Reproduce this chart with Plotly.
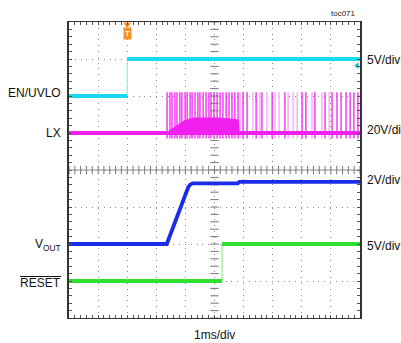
import numpy as np
import plotly.graph_objects as go

# ---------------- data (time in ms, 1 ms/div, trigger at 0 ms) ----------------
t_range = [-2, 8]

# channel scales (V/div) and zero-level positions (divisions from bottom)
en_scale, en_pos = 5, 6
lx_scale, lx_pos = 20, 5
vout_scale, vout_pos = 2, 2
reset_scale, reset_pos = 5, 1

en_t = [-2, 0.0, 0.0, 8]
en_v = [0, 0, 5, 5]

vout_t = [-2, 1.36, 2.10, 2.17, 2.25, 3.80, 3.86, 8]
vout_v = [0, 0, 3.08, 3.22, 3.28, 3.28, 3.36, 3.36]

reset_t = [-2, 3.26, 3.26, 8]
reset_v = [0, 0, 5, 5]

lx_base_t = [-2, 8]
lx_base_v = [0, 0]
lx_env_t = [1.34, 1.60, 1.95, 2.30, 3.00, 3.50, 3.82, 3.86]
lx_env_v = [0, 2.7, 6.5, 8.1, 8.1, 7.6, 7.0, 0]
lx_pulse_strong = [1.37, 1.47, 1.54, 1.64, 1.71, 1.81, 1.88, 1.99, 2.06, 2.16, 2.23,
                   2.33, 2.43, 2.50, 2.61, 2.71, 2.81, 2.88, 2.98, 3.09, 3.19, 3.29,
                   3.40, 3.50, 3.60, 3.70, 3.81, 3.98, 4.12, 4.43, 4.63, 4.98, 5.42,
                   6.01, 6.14, 6.45, 6.80, 7.04, 7.21, 7.35, 7.52, 7.66, 7.79, 7.93]
lx_pulse_faint = [3.88, 4.32, 4.56, 4.80, 5.08, 5.22, 5.53, 5.70, 5.84, 6.35, 6.69,
                  6.94]
lx_high, lx_low = 22, -3

# ---------------- helpers ----------------
def to_div(v, scale, pos):
    return [None if x is None else pos + x / scale for x in v]


def split_steps(t, v):
    """Return horizontal/sloped runs (thick) and vertical edges (thin)."""
    runs, edges = [], []
    cur_x, cur_y = [t[0]], [v[0]]
    for i in range(len(t) - 1):
        if t[i] == t[i + 1]:
            runs.append((cur_x, cur_y))
            edges.append(([t[i], t[i + 1]], [v[i], v[i + 1]]))
            cur_x, cur_y = [t[i + 1]], [v[i + 1]]
        else:
            cur_x.append(t[i + 1])
            cur_y.append(v[i + 1])
    runs.append((cur_x, cur_y))
    return runs, edges


def pulses(times):
    xs, ys = [], []
    for p in times:
        xs += [p, p, None]
        ys += [lx_low, lx_high, None]
    return xs, ys


fig = go.Figure()


def add_channel(t, v, scale, pos, color, edge_color, width):
    runs, edges = split_steps(t, v)
    for ex, ey in edges:
        fig.add_trace(go.Scatter(x=ex, y=to_div(ey, scale, pos), mode="lines",
                                 line=dict(color=edge_color, width=1.2),
                                 hoverinfo="skip", showlegend=False))
    for rx, ry in runs:
        fig.add_trace(go.Scatter(x=rx, y=to_div(ry, scale, pos), mode="lines",
                                 line=dict(color=color, width=width),
                                 hoverinfo="skip", showlegend=False))


CYAN = "#1adbeb"
MAGENTA = "#f020f0"
BLUE = "#1a2ee8"
GREEN = "#30e030"

# center graticule ticks
tick_x = np.round(np.arange(t_range[0], t_range[1] + 0.001, 0.2), 3)
tick_y = np.round(np.arange(0, 8.001, 0.2), 3)
fig.add_trace(go.Scatter(x=tick_x, y=[4] * len(tick_x), mode="markers",
                         marker=dict(symbol="line-ns", size=6,
                                     line=dict(color="#777", width=1)),
                         hoverinfo="skip", showlegend=False))
fig.add_trace(go.Scatter(x=[3] * len(tick_y), y=tick_y, mode="markers",
                         marker=dict(symbol="line-ew", size=6,
                                     line=dict(color="#777", width=1)),
                         hoverinfo="skip", showlegend=False))

# EN/UVLO
add_channel(en_t, en_v, en_scale, en_pos, CYAN, "#8fecf5", 3.8)

# LX
env_x = lx_env_t + lx_env_t[::-1]
env_y = to_div(lx_env_v, lx_scale, lx_pos) + to_div([0] * len(lx_env_t), lx_scale, lx_pos)
fig.add_trace(go.Scatter(x=env_x, y=env_y, mode="lines", fill="toself",
                         fillcolor=MAGENTA, line=dict(color=MAGENTA, width=1),
                         hoverinfo="skip", showlegend=False))
px, py = pulses(lx_pulse_faint)
fig.add_trace(go.Scatter(x=px, y=to_div(py, lx_scale, lx_pos), mode="lines",
                         line=dict(color="#f6a6f6", width=1.3),
                         hoverinfo="skip", showlegend=False))
px, py = pulses(lx_pulse_strong)
fig.add_trace(go.Scatter(x=px, y=to_div(py, lx_scale, lx_pos), mode="lines",
                         line=dict(color=MAGENTA, width=1.3),
                         hoverinfo="skip", showlegend=False))
fig.add_trace(go.Scatter(x=lx_base_t, y=to_div(lx_base_v, lx_scale, lx_pos),
                         mode="lines", line=dict(color=MAGENTA, width=4),
                         hoverinfo="skip", showlegend=False))

# VOUT
add_channel(vout_t, vout_v, vout_scale, vout_pos, BLUE, "#6a7af0", 3.8)
# RESET
add_channel(reset_t, reset_v, reset_scale, reset_pos, GREEN, "#8af08a", 3.8)

# reference-level arrow (EN/UVLO) and trigger marker
fig.add_trace(go.Scatter(x=[7.9], y=[6.82], mode="markers",
                         marker=dict(symbol="triangle-left", size=6, color="#16b8c8"),
                         hoverinfo="skip", showlegend=False, cliponaxis=False))
fig.add_trace(go.Scatter(x=[0], y=[7.93], mode="markers",
                         marker=dict(symbol="triangle-down", size=7, color="#f7901e"),
                         hoverinfo="skip", showlegend=False, cliponaxis=False))

FONT = "Liberation Sans, Arial, sans-serif"
ann = []
ann.append(dict(x=0, y=8, xref="x", yref="y", yshift=-11, text="<b>T</b>",
                showarrow=False, font=dict(family=FONT, size=8, color="white"),
                bgcolor="#f7901e", borderpad=1))

left_labels = [("EN/UVLO", 6.08), ("LX", 5.0), ("V<sub>OUT</sub>", 1.98), ("RESET", 0.95)]
for txt, y in left_labels:
    ann.append(dict(x=0, y=y, xref="paper", yref="y", xanchor="right", xshift=-6,
                    text=txt, showarrow=False,
                    font=dict(family=FONT, size=12, color="#111")))
right_labels = [("5V/div", 6.97), ("20V/div", 5.08), ("2V/div", 3.73), ("5V/div", 1.95)]
for txt, y in right_labels:
    ann.append(dict(x=1, y=y, xref="paper", yref="y", xanchor="left", xshift=5,
                    text=txt, showarrow=False,
                    font=dict(family=FONT, size=12, color="#111")))
ann.append(dict(x=1, y=1, xref="paper", yref="paper", xanchor="right", yanchor="bottom",
                xshift=-2, yshift=2, text="toc071", showarrow=False,
                font=dict(family=FONT, size=8, color="#222")))
ann.append(dict(x=0.5, y=0, xref="paper", yref="paper", xanchor="center", yanchor="top",
                yshift=-8, text="1ms/div", showarrow=False,
                font=dict(family=FONT, size=12, color="#111")))

W, H = 401, 343
ML, MR, MT, MB = 69, 41, 22, 25
plot_h = H - MT - MB

shapes = [
    dict(type="line", xref="x", yref="y", x0=t_range[0], x1=t_range[1], y0=4, y1=4,
         line=dict(color="#888", width=1)),
    # overline for RESET
    dict(type="line", xref="paper", yref="paper", x0=-0.168, x1=-0.027,
         y0=(H - MB - 276.5) / plot_h, y1=(H - MB - 276.5) / plot_h,
         line=dict(color="#111", width=1)),
]

axis_common = dict(showgrid=True, griddash="1px,4.8px", gridcolor="#8a8a8a", gridwidth=1,
                   zeroline=False, showticklabels=False, ticks="inside", ticklen=3,
                   tickcolor="#555", mirror="ticks", linecolor="#333")
minor_common = dict(ticks="inside", ticklen=3, tickcolor="#555", showgrid=False, dtick=0.2)

fig.update_layout(
    width=W, height=H,
    margin=dict(l=ML, r=MR, t=MT, b=MB),
    paper_bgcolor="white", plot_bgcolor="white",
    xaxis=dict(range=t_range, dtick=1, tick0=0, linewidth=1.3, minor=minor_common,
               **axis_common),
    yaxis=dict(range=[0, 8], dtick=1, tick0=0, linewidth=2, minor=minor_common,
               **axis_common),
    annotations=ann, shapes=shapes, showlegend=False,
)

fig.write_html(
    "out.html",
    config={"displayModeBar": False, "staticPlot": True},
    post_script="document.body.style.margin='0';document.body.style.overflow='hidden';",
)
